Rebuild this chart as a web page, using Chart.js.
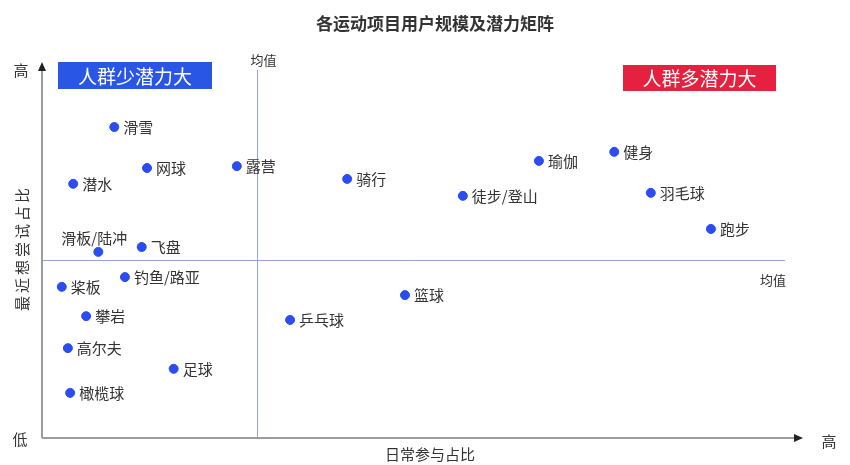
<!DOCTYPE html>
<html>
<head>
<meta charset="utf-8">
<script src="https://cdn.jsdelivr.net/npm/chart.js@4/dist/chart.umd.min.js"></script>
<style>
  body { margin: 0; background: #fff; }
  canvas { display: block; }
</style>
</head>
<body>
<canvas id="matrix" width="850" height="465"></canvas>
<script>
// 运动项目
const sports = ['滑雪', '网球', '露营', '潜水', '骑行', '瑜伽', '健身', '徒步/登山', '羽毛球', '跑步',
  '滑板/陆冲', '飞盘', '钓鱼/路亚', '桨板', '篮球', '攀岩', '乒乓球', '高尔夫', '足球', '橄榄球'];
// 日常参与占比（相对位置 0-100）
const dailyShare = [9.5, 13.8, 25.6, 4.1, 40.1, 65.3, 75.2, 55.3, 80.0, 87.9,
  7.4, 13.1, 10.9, 2.6, 47.7, 5.8, 32.6, 3.4, 17.3, 3.7];
// 最近想尝试占比（相对位置 0-100）
const tryShare = [82.7, 71.8, 72.3, 67.6, 68.9, 73.7, 76.1, 64.4, 65.2, 55.6,
  49.5, 50.8, 42.8, 40.2, 38.0, 32.4, 31.4, 23.9, 18.4, 12.0];
// 均值线
const meanDaily = 28.3;
const meanTry = 47.3;

const FONT = '"Noto Sans CJK SC", "Noto Sans", sans-serif';
const labelsAbove = ['滑板/陆冲'];

function arrow(ctx, x, y, dir) {
  ctx.beginPath();
  if (dir === 'up') {
    ctx.moveTo(x, y); ctx.lineTo(x - 4, y + 9); ctx.lineTo(x + 4, y + 9);
  } else {
    ctx.moveTo(x, y); ctx.lineTo(x - 9, y - 4); ctx.lineTo(x - 9, y + 4);
  }
  ctx.closePath();
  ctx.fillStyle = '#222';
  ctx.fill();
}

function badge(ctx, x, y, w, h, color, text) {
  ctx.fillStyle = color;
  ctx.fillRect(x, y, w, h);
  ctx.fillStyle = '#fff';
  ctx.font = '19px ' + FONT;
  ctx.textAlign = 'center';
  ctx.textBaseline = 'middle';
  ctx.fillText(text, x + w / 2, y + h / 2 + 1);
}

const matrixPlugin = {
  id: 'matrix',
  beforeDatasetsDraw(chart) {
    const { ctx, chartArea: a, scales: { x, y } } = chart;
    ctx.save();
    // 均值线
    ctx.strokeStyle = '#93a3e6';
    ctx.lineWidth = 1;
    const mx = Math.round(x.getPixelForValue(meanDaily)) + 0.5;
    const my = Math.round(y.getPixelForValue(meanTry)) + 0.5;
    ctx.beginPath();
    ctx.moveTo(mx, a.top + 8); ctx.lineTo(mx, a.bottom);
    ctx.moveTo(a.left, my); ctx.lineTo(a.right - 18, my);
    ctx.stroke();

    // 坐标轴
    ctx.strokeStyle = '#9c9c9c';
    ctx.lineWidth = 2;
    ctx.beginPath();
    ctx.moveTo(a.left, a.bottom); ctx.lineTo(a.left, a.top + 6);
    ctx.moveTo(a.left, a.bottom); ctx.lineTo(a.right - 6, a.bottom);
    ctx.stroke();
    arrow(ctx, a.left, a.top, 'up');
    arrow(ctx, a.right, a.bottom, 'right');

    ctx.fillStyle = '#333';
    ctx.font = '13px ' + FONT;
    ctx.textAlign = 'center';
    ctx.textBaseline = 'middle';
    ctx.fillText('均值', mx + 6, a.top - 2);
    ctx.fillText('均值', a.right - 30, my + 20);

    ctx.font = '15px ' + FONT;
    ctx.fillText('高', 21, a.top + 8);
    ctx.fillText('低', 20, a.bottom + 1);
    ctx.fillText('高', 829, a.bottom + 3);
    ctx.fillText('日常参与占比', 430, 454);

    ctx.save();
    ctx.translate(22, 248);
    ctx.rotate(-Math.PI / 2);
    ctx.letterSpacing = '3px';
    ctx.fillText('最近想尝试占比', 0, 0);
    ctx.restore();

    ctx.font = 'bold 17px ' + FONT;
    ctx.fillText('各运动项目用户规模及潜力矩阵', 435, 24);

    badge(ctx, 58, 62, 154, 27, '#2a56e6', '人群少潜力大');
    badge(ctx, 623, 65, 153, 26, '#e6213f', '人群多潜力大');
    ctx.restore();
  },
  afterDatasetsDraw(chart) {
    const { ctx } = chart;
    const meta = chart.getDatasetMeta(0);
    ctx.save();
    ctx.fillStyle = '#333';
    ctx.font = '15px ' + FONT;
    ctx.textBaseline = 'middle';
    meta.data.forEach((pt, i) => {
      const name = sports[i];
      if (labelsAbove.includes(name)) {
        ctx.textAlign = 'center';
        ctx.fillText(name, pt.x - 4, pt.y - 14);
      } else {
        ctx.textAlign = 'left';
        ctx.fillText(name, pt.x + 9, pt.y);
      }
    });
    ctx.restore();
  }
};

const ctx = document.getElementById('matrix').getContext('2d');
const chart = new Chart(ctx, {
  type: 'scatter',
  data: {
    datasets: [{
      label: '运动项目',
      data: sports.map((s, i) => ({ x: dailyShare[i], y: tryShare[i] })),
      backgroundColor: '#2b4cf0',
      borderColor: '#2b4cf0',
      pointRadius: 4.5,
      pointHoverRadius: 4.5
    }]
  },
  options: {
    responsive: false,
    animation: false,
    layout: { padding: { left: 42, right: 47, top: 62, bottom: 27 } },
    plugins: {
      legend: { display: false },
      tooltip: { enabled: false },
      title: { display: false }
    },
    scales: {
      x: { type: 'linear', min: 0, max: 100, display: false },
      y: { type: 'linear', min: 0, max: 100, display: false }
    }
  },
  plugins: [matrixPlugin]
});
</script>
</body>
</html>
